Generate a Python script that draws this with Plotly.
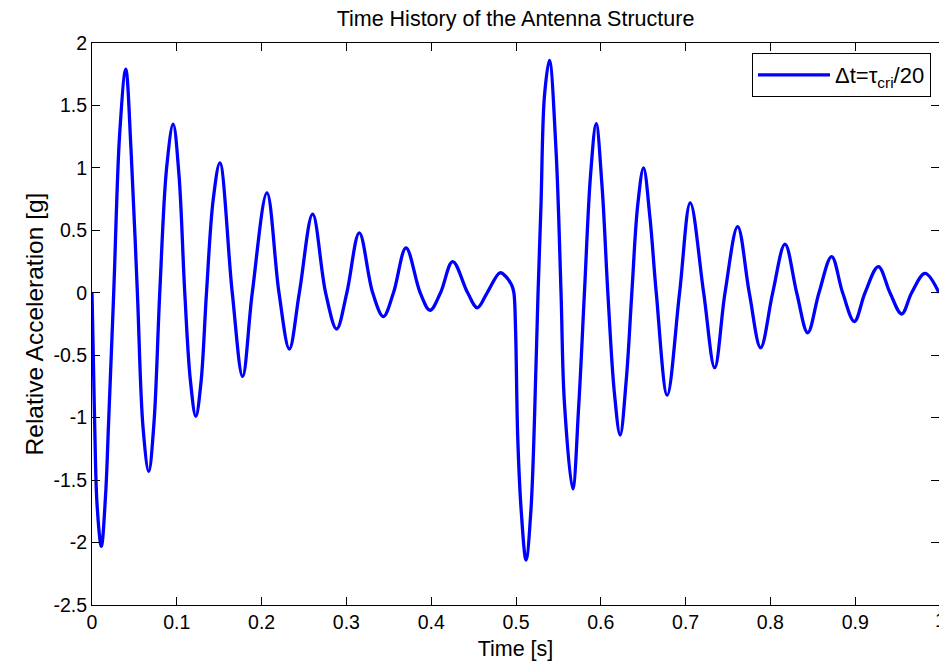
import plotly.graph_objects as go

# Sampled response of the antenna (time in s, relative acceleration in g)
time_s = [
    0.000, 0.003, 0.006, 0.011, 0.016, 0.0195, 0.0256, 0.0327, 0.0398, 0.0460,
    0.0535, 0.0602, 0.0669, 0.0730, 0.0799, 0.0880, 0.0957, 0.1025, 0.1094, 0.1160,
    0.1224, 0.1285, 0.1350, 0.1430, 0.1508, 0.1654, 0.1776, 0.1890, 0.2063, 0.2205,
    0.2327, 0.2445, 0.2602, 0.2755, 0.2885, 0.3005, 0.3152, 0.3310, 0.3436, 0.3555,
    0.3703, 0.3870, 0.3986, 0.4110, 0.4253, 0.4430, 0.4544, 0.4660, 0.4811, 0.4880,
    0.4950, 0.4975, 0.4995, 0.5020, 0.5060, 0.5118, 0.5177, 0.5236, 0.5260, 0.5295,
    0.5335, 0.5394, 0.5472, 0.5531, 0.5570, 0.5669, 0.5740, 0.5807, 0.5880, 0.5945,
    0.6015, 0.6083, 0.6160, 0.6228, 0.6300, 0.6366, 0.6435, 0.6504, 0.6580, 0.6654,
    0.6783, 0.6929, 0.7055, 0.7213, 0.7343, 0.7465, 0.7614, 0.7751, 0.7885, 0.8027,
    0.8172, 0.8310, 0.8440, 0.8573, 0.8722, 0.8852, 0.8990, 0.9116, 0.9273, 0.9410,
    0.9548, 0.9666, 0.9823, 0.9988,
]
accel_g = [
    0.00, -1.00, -1.70, -2.03, -1.62, -1.05, 0.00, 1.28, 1.79, 1.15,
    0.00, -1.08, -1.43, -1.05, 0.00, 1.00, 1.35, 0.95, 0.00, -0.70,
    -0.99, -0.72, 0.00, 0.75, 1.04, 0.00, -0.67, 0.00, 0.80, 0.00,
    -0.45, 0.00, 0.63, 0.00, -0.29, 0.00, 0.48, 0.00, -0.19, 0.00,
    0.36, 0.00, -0.14, 0.00, 0.25, 0.00, -0.12, 0.00, 0.16, 0.13,
    0.06, 0.00, -0.30, -1.15, -1.73, -2.14, -1.73, -0.58, 0.00, 0.71,
    1.57, 1.86, 1.14, 0.00, -0.87, -1.57, -0.90, 0.00, 0.95, 1.355,
    0.85, 0.00, -0.80, -1.14, -0.70, 0.00, 0.70, 1.00, 0.60, 0.00,
    -0.82, 0.00, 0.72, 0.00, -0.60, 0.00, 0.53, 0.00, -0.44, 0.00,
    0.39, 0.00, -0.32, 0.00, 0.29, 0.00, -0.23, 0.00, 0.21, 0.00,
    -0.17, 0.00, 0.155, 0.00,
]

x_ticks = [0, 0.1, 0.2, 0.3, 0.4, 0.5, 0.6, 0.7, 0.8, 0.9]
x_tick_text = ["0", "0.1", "0.2", "0.3", "0.4", "0.5", "0.6", "0.7", "0.8", "0.9"]
y_ticks = [-2.5, -2, -1.5, -1, -0.5, 0, 0.5, 1, 1.5, 2]
y_tick_text = ["-2.5", "-2", "-1.5", "-1", "-0.5", "0", "0.5", "1", "1.5", "2"]

FONT = "Liberation Sans, Arial, Helvetica, sans-serif"

fig = go.Figure()
fig.add_trace(go.Scatter(
    x=time_s, y=accel_g, mode="lines",
    line=dict(color="#0000FF", width=3.3, shape="spline", smoothing=1.0),
    name="\u0394t=\u03c4<sub>cri</sub>/20",
))

axis_common = dict(
    showline=True, linecolor="black", linewidth=1, mirror="ticks",
    ticks="inside", ticklen=8, tickwidth=1, tickcolor="black",
    showgrid=False, zeroline=False,
    tickfont=dict(family=FONT, size=19.5, color="black"),
)

fig.update_layout(
    width=939, height=665,
    margin=dict(l=92, r=0, t=43, b=60),
    paper_bgcolor="white", plot_bgcolor="white",
    font=dict(family=FONT, color="black"),
    title=dict(text="Time History of the Antenna Structure",
               x=(92 + 939) / 2 / 939, xanchor="center",
               y=1 - 18 / 665, yanchor="middle",
               font=dict(family=FONT, size=21.5, color="black")),
    xaxis=dict(range=[0, 847 / 848], tickvals=x_ticks, ticktext=x_tick_text,
               title=dict(text="Time [s]", font=dict(family=FONT, size=21.5),
                          standoff=8),
               **axis_common),
    yaxis=dict(range=[-2.5, 2], tickvals=y_ticks, ticktext=y_tick_text,
               title=dict(text="Relative Acceleration [g]",
                          font=dict(family=FONT, size=24.5), standoff=2),
               **axis_common),
    showlegend=True,
    legend=dict(x=(931 - 92) / 847, xanchor="right", y=(605 - 53) / 562, yanchor="top",
                bgcolor="white", bordercolor="black", borderwidth=1,
                font=dict(family=FONT, size=22, color="black"),
                itemwidth=72),
    # tick label for t = 1, whose tick sits on the right-hand border
    annotations=[dict(text="1", xref="paper", yref="paper",
                      x=(940 - 92) / 847, y=0, xanchor="center", yanchor="top",
                      yshift=-2, showarrow=False,
                      font=dict(family=FONT, size=19.5, color="black"))],
)

fig.write_html("out.html")
